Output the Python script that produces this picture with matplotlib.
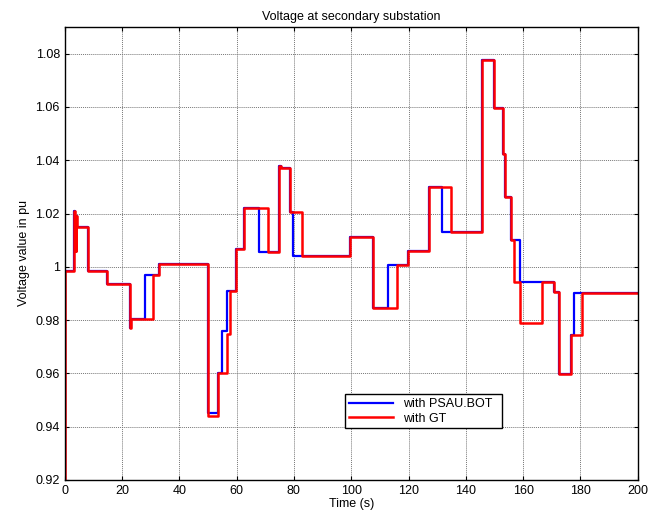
import numpy as np
import matplotlib
matplotlib.use("Agg")
import matplotlib.pyplot as plt

plt.rcParams["font.family"] = ["Liberation Sans", "DejaVu Sans"]

# Step data (time in s, voltage in pu)
t_psau = [0, 0.1, 3.4, 3.7, 3.9, 4.1, 4.4, 8.0, 14.9, 22.9, 23.3, 28.0, 33.0,
          49.9, 53.6, 54.8, 56.8, 59.8, 62.7, 67.8, 74.9, 75.5, 78.6, 79.8,
          99.6, 107.7, 112.7, 119.9, 127.2, 131.7, 145.8, 149.7, 152.9, 153.8,
          155.8, 158.8, 170.8, 172.5, 176.7, 177.9, 200]
v_psau = [0.92, 0.9985, 1.021, 1.018, 1.006, 1.019, 1.015, 0.9985, 0.9934, 0.977,
          0.9805, 0.997, 1.0011, 0.945, 0.960, 0.9759, 0.9911, 1.0065, 1.0219,
          1.0055, 1.0379, 1.0369, 1.0207, 1.0042, 1.0111, 0.9847, 1.0008, 1.0061,
          1.0299, 1.0132, 1.0775, 1.0596, 1.0425, 1.0263, 1.0101, 0.9942, 0.9905,
          0.9596, 0.9745, 0.9903, 0.9903]

t_gt = [0, 0.1, 3.4, 3.7, 3.9, 4.1, 4.4, 8.0, 14.9, 22.9, 23.3, 30.8, 33.0,
        49.9, 53.6, 56.8, 57.6, 59.8, 62.7, 70.8, 74.9, 75.5, 78.6, 82.8,
        99.6, 107.7, 115.9, 119.9, 127.2, 134.7, 145.8, 149.7, 152.9, 153.8,
        155.8, 156.7, 158.8, 166.7, 170.8, 172.5, 176.7, 180.6, 200]
v_gt = [0.92, 0.9985, 1.021, 1.018, 1.006, 1.019, 1.015, 0.9985, 0.9934, 0.977,
        0.9805, 0.997, 1.0011, 0.944, 0.960, 0.9749, 0.9911, 1.0065, 1.0219,
        1.0055, 1.0379, 1.0369, 1.0207, 1.0042, 1.0111, 0.9847, 1.0008, 1.0061,
        1.0299, 1.0132, 1.0775, 1.0596, 1.0425, 1.0263, 1.0101, 0.9942, 0.9788,
        0.9942, 0.9905, 0.9596, 0.9745, 0.9903, 0.9903]

x_ticks = list(range(0, 201, 20))
y_ticks = [0.92, 0.94, 0.96, 0.98, 1.0, 1.02, 1.04, 1.06, 1.08]
y_labels = ["0.92", "0.94", "0.96", "0.98", "1", "1.02", "1.04", "1.06", "1.08"]

fig = plt.figure(figsize=(6.49, 5.15), dpi=100)
ax = fig.add_axes([0.0997, 0.068, 0.8829, 0.8796])

ax.plot(t_psau, v_psau, drawstyle="steps-post", color="blue", lw=1.6,
        label="with PSAU.BOT")
ax.plot(t_gt, v_gt, drawstyle="steps-post", color="red", lw=1.8,
        label="with GT")

ax.set_xlim(0, 200)
ax.set_ylim(0.92, 1.09)
ax.set_xticks(x_ticks)
ax.set_yticks(y_ticks)
ax.set_yticklabels(y_labels)
ax.tick_params(direction="in", top=True, right=True, labelsize=9, length=3)
ax.grid(True, color="#777777", linestyle=(0, (1, 1)), lw=0.7)
for s in ax.spines.values():
    s.set_linewidth(1.0)

ax.set_title("Voltage at secondary substation", fontsize=9, pad=5)
ax.set_xlabel("Time (s)", fontsize=9, labelpad=1)
ax.set_ylabel("Voltage value in pu", fontsize=9, labelpad=4)

leg = ax.legend(loc="lower left", bbox_to_anchor=(0.49, 0.114, 0.274, 0.09),
                mode="expand", fontsize=9, fancybox=False, framealpha=1,
                edgecolor="black", handlelength=3.5, borderaxespad=0,
                borderpad=0.3, labelspacing=0.2)
leg.get_frame().set_linewidth(1.0)

fig.savefig("out.png", dpi=100)
